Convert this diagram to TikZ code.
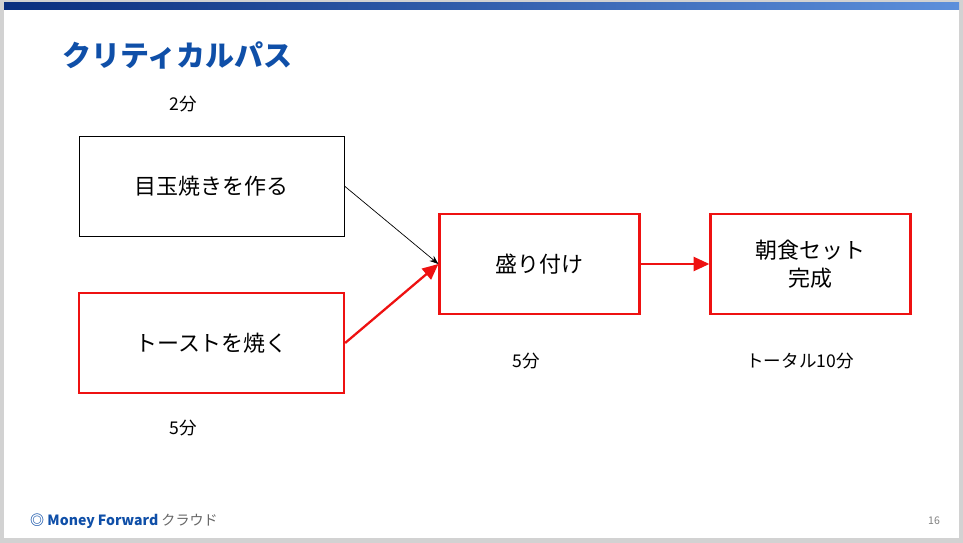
\documentclass[tikz,border=0pt]{standalone}
\usepackage{fontspec}
\setmainfont{Noto Sans CJK JP}
\usetikzlibrary{arrows.meta}
\definecolor{mfblue}{HTML}{0F4FA8}
\definecolor{mfdark}{HTML}{0A2F7E}
\definecolor{mflight}{HTML}{5C8FDB}
\definecolor{critred}{HTML}{EE1111}
\tikzset{
    task/.style={draw=#1,line width=1.3pt,minimum width=5.3cm,minimum height=2cm,align=center,font=\fontsize{12.5}{16}\selectfont},
    note/.style={font=\fontsize{10}{12}\selectfont},
    flow/.style={-{Triangle[length=9pt,width=8pt]},line width=1.3pt,critred}
}
\begin{document}
\begin{tikzpicture}[x=0.02cm,y=-0.02cm]
  % Slide
  \fill[gray!35] (0,0) rectangle (963,543);
  \fill[white] (4,4) rectangle (959,538);
  \shade[left color=mfdark,right color=mflight] (4,3) rectangle (959,10);
  \node[anchor=west,text=mfblue,font=\fontsize{16.5}{20}\selectfont\bfseries] (title) at (56,55) {クリティカルパス};

  % Tasks
  \node[task=black,line width=0.5pt] (egg) at (211.5,186) {目玉焼きを作る};
  \node[task=critred] (toast) at (211.5,343) {トーストを焼く};
  \node[task=critred,minimum width=4cm] (plate) at (539.5,264) {盛り付け};
  \node[task=critred,minimum width=4cm] (done) at (810.5,264) {朝食セット\\完成};

  % Durations
  \node[note] (t1) at (183,104) {2分};
  \node[note] (t2) at (183,428) {5分};
  \node[note] (t3) at (526,361) {5分};
  \node[note] (t4) at (800,361) {トータル10分};

  % Edges
  \draw[-{Stealth[length=5pt]},line width=0.4pt] (egg.east) -- (plate.west);
  \draw[flow] (toast.east) -- (plate.west);
  \draw[flow] (plate) -- (done);

  % Footer
  \node[anchor=west,text=mfblue,font=\fontsize{8}{10}\selectfont\bfseries] (logo) at (24,521) {◎ Money Forward \textmd{\color{gray!80!black}クラウド}};
  \node[text=gray,font=\fontsize{6}{8}\selectfont] (page) at (934,521) {16};
\end{tikzpicture}
\end{document}
